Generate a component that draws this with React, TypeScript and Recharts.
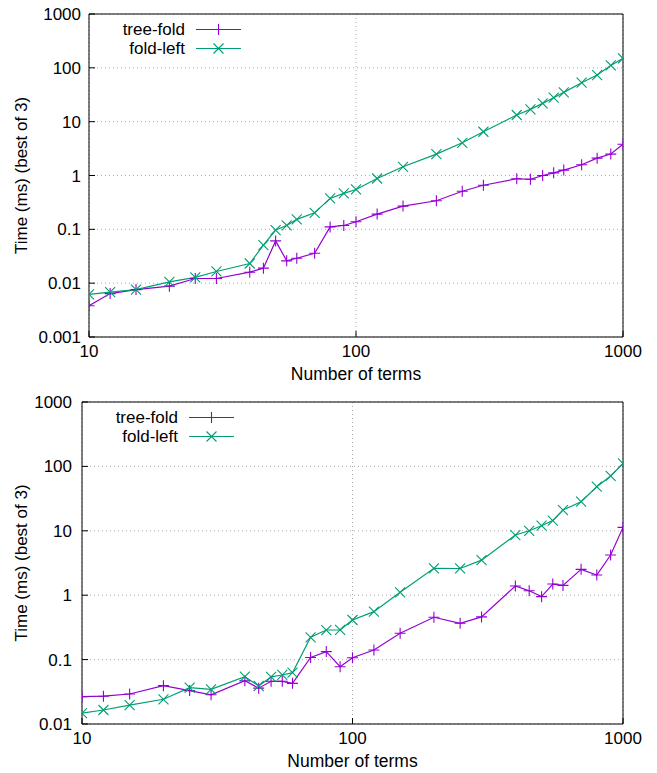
import { CartesianGrid, Legend, Line, LineChart, XAxis, YAxis } from "recharts";

const terms = [10, 12, 15, 20, 25, 30, 40, 45, 50, 55, 60, 70, 80, 90, 100, 120, 150, 200, 250, 300, 400, 450, 500, 550, 600, 700, 800, 900, 1000];

const topTreeFold = [0.0038, 0.0064, 0.0076, 0.0088, 0.0122, 0.0122, 0.016, 0.019, 0.061, 0.026, 0.029, 0.036, 0.111, 0.118, 0.138, 0.192, 0.27, 0.34, 0.51, 0.66, 0.87, 0.85, 1.0, 1.12, 1.26, 1.58, 2.1, 2.5, 3.8];
const topFoldLeft = [0.0062, 0.0068, 0.0076, 0.0106, 0.0128, 0.0165, 0.0232, 0.051, 0.097, 0.118, 0.153, 0.203, 0.375, 0.465, 0.55, 0.88, 1.45, 2.5, 4.05, 6.5, 13.3, 16.9, 21.9, 27.9, 35, 53, 73.5, 111, 150];

const bottomTreeFold = [0.0266, 0.027, 0.0292, 0.0394, 0.033, 0.0284, 0.047, 0.036, 0.046, 0.046, 0.0428, 0.108, 0.133, 0.0776, 0.107, 0.141, 0.256, 0.454, 0.366, 0.46, 1.39, 1.17, 0.95, 1.49, 1.42, 2.52, 2.06, 4.2, 11.3];
const bottomFoldLeft = [0.0147, 0.0165, 0.0197, 0.0242, 0.0366, 0.0345, 0.0543, 0.0389, 0.054, 0.0577, 0.0627, 0.222, 0.288, 0.29, 0.412, 0.555, 1.11, 2.61, 2.6, 3.5, 8.6, 10.0, 12.0, 14.4, 21, 28.3, 48.4, 71, 111];

const xTicks = [10, 100, 1000];
const topYTicks = [0.001, 0.01, 0.1, 1, 10, 100, 1000];
const bottomYTicks = [0.01, 0.1, 1, 10, 100, 1000];

const seriesNames = ["tree-fold", "fold-left"];
const seriesColors = ["#9400d3", "#009e73"];

const FONT = '"Liberation Sans", Arial, Helvetica, sans-serif';
const W = 657;

// minor log ticks (2..9) between each pair of decades
const minorTicks = (majors: number[]) => {
  const out: number[] = [];
  for (let i = 0; i < majors.length - 1; i++) {
    for (let k = 2; k <= 9; k++) out.push(+(majors[i] * k).toPrecision(3));
  }
  return out;
};

const plusPath = (x: number, y: number, r: number) => `M${x - r},${y}H${x + r}M${x},${y - r}V${y + r}`;
const crossPath = (x: number, y: number, r: number) =>
  `M${x - r},${y - r}L${x + r},${y + r}M${x - r},${y + r}L${x + r},${y - r}`;

const markerDot = (kind: "plus" | "cross", color: string) => (p: any) => {
  if (p.cx == null || p.cy == null) return <g key={p.index} />;
  const d = kind === "plus" ? plusPath(p.cx, p.cy, 5.5) : crossPath(p.cx, p.cy, 5);
  return <path key={p.index} d={d} stroke={color} strokeWidth={1.1} fill="none" />;
};

function LegendBox() {
  return (
    <svg width={170} height={52} style={{ display: "block", overflow: "visible" }}>
      {seriesNames.map((name, i) => {
        const y = 15.5 + i * 19;
        return (
          <g key={name}>
            <text x={96} y={y} textAnchor="end" dominantBaseline="central" fontSize={17} fontFamily={FONT} fill="#000">
              {name}
            </text>
            <line x1={107} x2={152} y1={y} y2={y} stroke={seriesColors[i]} strokeWidth={1.2} />
            <path
              d={i === 0 ? plusPath(129.5, y, 5.5) : crossPath(129.5, y, 5)}
              stroke={seriesColors[i]}
              strokeWidth={1.1}
              fill="none"
            />
          </g>
        );
      })}
    </svg>
  );
}

type PanelProps = {
  height: number;
  plotTop: number;
  plotBottom: number;
  plotLeft: number;
  yDomain: [number, number];
  yTicks: number[];
  tree: number[];
  fold: number[];
  yTickMargin: number;
};

function Panel({ height, plotTop, plotBottom, plotLeft, yDomain, yTicks, tree, fold, yTickMargin }: PanelProps) {
  const data = terms.map((n, i) => ({ n, tree: tree[i], fold: fold[i] }));
  const xMinor = minorTicks(xTicks);
  const yMinor = minorTicks(yTicks);
  const plotRight = 623;
  const margin = { top: plotTop - 2, bottom: height - plotBottom - 2, left: plotLeft - 2, right: W - plotRight - 2 };
  const centerY = (plotTop + plotBottom) / 2;

  const xCommon = { type: "number" as const, scale: "log" as const, domain: [10, 1000], allowDataOverflow: true, interval: 0 as const, height: 1 };
  const yCommon = { type: "number" as const, scale: "log" as const, domain: yDomain, allowDataOverflow: true, interval: 0 as const, width: 1 };
  const black = { stroke: "#000", strokeWidth: 1 };

  const yTitle = () => (
    <text
      x={21}
      y={centerY}
      transform={`rotate(-90, 21, ${centerY})`}
      textAnchor="middle"
      dominantBaseline="central"
      fontSize={17}
      fontFamily={FONT}
      fill="#000"
    >
      Time (ms) (best of 3)
    </text>
  );

  return (
    <LineChart width={W} height={height} data={data} margin={margin} style={{ fontFamily: FONT }}>
      <CartesianGrid stroke="#aaaaaa" strokeDasharray="1 3" />
      <XAxis xAxisId={0} dataKey="n" orientation="bottom" ticks={xTicks} tickSize={-6} tickMargin={14}
        tick={{ fill: "#000", fontSize: 17 }} axisLine={black} tickLine={black}
        label={{ value: "Number of terms", position: "bottom", offset: 30, fill: "#000", fontSize: 17.5 }} {...xCommon} />
      <XAxis xAxisId="xMinB" orientation="bottom" ticks={xMinor} tickSize={-3} tick={false} axisLine={false} tickLine={black} {...xCommon} />
      <XAxis xAxisId="xMajT" orientation="top" ticks={xTicks} tickSize={-6} tick={false} axisLine={black} tickLine={black} {...xCommon} />
      <XAxis xAxisId="xMinT" orientation="top" ticks={xMinor} tickSize={-3} tick={false} axisLine={false} tickLine={black} {...xCommon} />
      <YAxis yAxisId={0} orientation="left" ticks={yTicks} tickSize={-6} tickMargin={yTickMargin}
        tick={{ fill: "#000", fontSize: 17 }} axisLine={black} tickLine={black} label={yTitle} {...yCommon} />
      <YAxis yAxisId="yMinL" orientation="left" ticks={yMinor} tickSize={-3} tick={false} axisLine={false} tickLine={black} {...yCommon} />
      <YAxis yAxisId="yMajR" orientation="right" ticks={yTicks} tickSize={-6} tick={false} axisLine={black} tickLine={black} {...yCommon} />
      <YAxis yAxisId="yMinR" orientation="right" ticks={yMinor} tickSize={-3} tick={false} axisLine={false} tickLine={black} {...yCommon} />
      <Legend
        layout="vertical"
        align="center"
        verticalAlign="middle"
        content={() => <LegendBox />}
        wrapperStyle={{ left: plotLeft, top: plotTop, width: 170, height: 52 }}
      />
      <Line name={seriesNames[0]} dataKey="tree" stroke={seriesColors[0]} strokeWidth={1.2}
        dot={markerDot("plus", seriesColors[0])} activeDot={false} isAnimationActive={false} />
      <Line name={seriesNames[1]} dataKey="fold" stroke={seriesColors[1]} strokeWidth={1.2}
        dot={markerDot("cross", seriesColors[1])} activeDot={false} isAnimationActive={false} />
    </LineChart>
  );
}

export default function App() {
  return (
    <div style={{ position: "absolute", left: 0, top: 0, width: W, height: 773, background: "#fff" }}>
      <Panel height={386} plotTop={14} plotBottom={337} plotLeft={89} yDomain={[0.001, 1000]} yTicks={topYTicks}
        tree={topTreeFold} fold={topFoldLeft} yTickMargin={14} />
      <Panel height={387} plotTop={16} plotBottom={338} plotLeft={82} yDomain={[0.01, 1000]} yTicks={bottomYTicks}
        tree={bottomTreeFold} fold={bottomFoldLeft} yTickMargin={16} />
    </div>
  );
}
